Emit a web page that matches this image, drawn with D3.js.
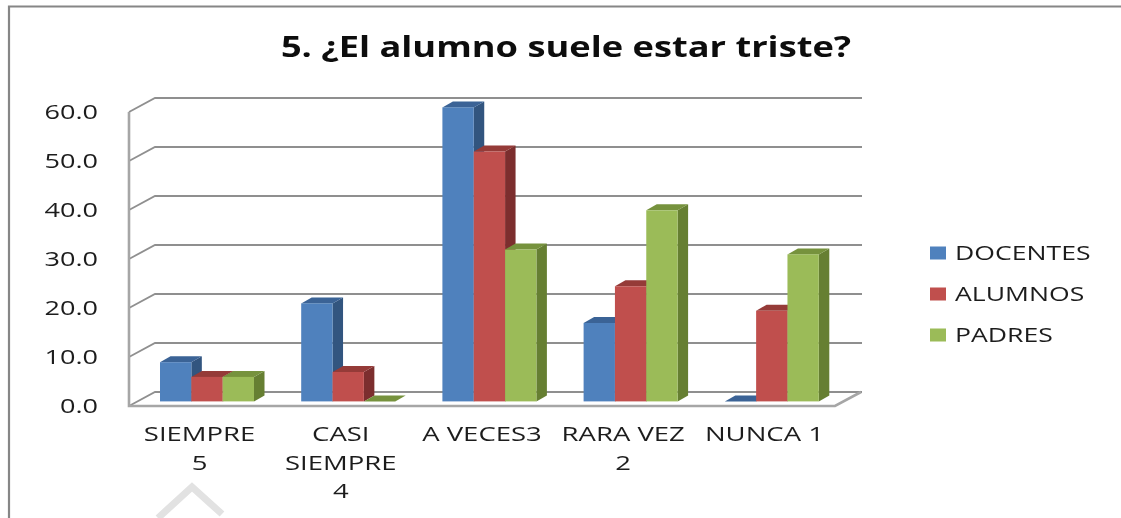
<!DOCTYPE html>
<html><head><meta charset="utf-8">
<script src="https://cdn.jsdelivr.net/npm/d3@7"></script>
<style>html,body{margin:0;padding:0;background:#fff;overflow:hidden}svg{display:block}text{font-family:"Open Sans",sans-serif;fill:#1c1c1c}</style>
</head><body><svg id="c" width="1121" height="518"></svg>
<script>
const titleText = "5. ¿El alumno suele estar triste?";
const categories = [["SIEMPRE","5"],["CASI","SIEMPRE","4"],["A VECES3"],["RARA VEZ","2"],["NUNCA 1"]];
const seriesNames = ["DOCENTES","ALUMNOS","PADRES"];
const docentes = [8,20,60,16,0];
const alumnos = [5,6,51,23.5,18.5];
const padres = [5,0,31,39,30];
const yTicks = [0,10,20,30,40,50,60];
const colors = ["#4f81bd","#c0504d","#9bbb59"];
const topColors = ["#3a6396","#953b39","#76923c"];
const sideColors = ["#31547f","#7c2f2d","#667f33"];
const series = [docentes,alumnos,padres];

const svg = d3.select("#c");
const defs = svg.append("defs");
defs.append("filter").attr("id","soft").append("feGaussianBlur").attr("stdDeviation",0.5);
const g = svg.append("g").attr("filter","url(#soft)");

function stretched(parent,x,y,sx,size,anchor,str){
  return parent.append("text").attr("transform",`translate(${x},${y}) scale(${sx},1)`)
    .attr("text-anchor",anchor).attr("font-size",size).text(str);
}

g.append("path").attr("d","M9,518V6.5H1121").attr("fill","none").attr("stroke","#868686").attr("stroke-width",2.2);
g.append("path").attr("d","M158,518L192,487L222,514").attr("fill","none").attr("stroke","#e2e2e2").attr("stroke-width",7);

const left=129,right=835,floorY=406,topY=112,backDX=26,backDY=14;
const y = d3.scaleLinear().domain([0,60]).range([floorY,topY]);
const x = d3.scaleBand().domain(d3.range(categories.length)).range([left,right]);
const inner = d3.scaleBand().domain(d3.range(series.length)).range([31,125]);
const barDY=4.6, capDX=10.5, capDY=6;

const grid = g.append("g").attr("fill","none").attr("stroke","#8f8f8f").attr("stroke-width",1.8);
yTicks.forEach(t=>{
  grid.append("path").attr("d",`M${left},${y(t)}L${left+backDX},${y(t)-backDY}H${right+backDX+1}`);
});
grid.append("path").attr("d",`M${left},${topY}V${floorY}H${right}L${right+backDX},${floorY-backDY}`).attr("stroke","#a6a6a6").attr("stroke-width",2.6);

const yl = g.append("g");
yTicks.forEach(t=>stretched(yl,98,y(t)+6.5,1.32,20.5,"end",t.toFixed(1)));

const bars = g.append("g");
categories.forEach((c,i)=>{
  series.forEach((s,k)=>{
    const v=s[i];
    const x0=x(i)+inner(k), w=inner.bandwidth();
    const base=y(0)-barDY, top=y(v)-barDY;
    const b=bars.append("g");
    if(v>0){
      b.append("path").attr("fill",sideColors[k]).attr("d",`M${x0+w},${top}l${capDX},${-capDY}V${base-capDY}l${-capDX},${capDY}Z`);
      b.append("path").attr("fill",topColors[k]).attr("d",`M${x0},${top}l${capDX},${-capDY}h${w}l${-capDX},${capDY}Z`);
      b.append("rect").attr("x",x0).attr("y",top).attr("width",w).attr("height",base-top).attr("fill",colors[k]);
    } else {
      b.append("path").attr("fill",topColors[k]).attr("d",`M${x0},${base}l${capDX},${-capDY}h${w}l${-capDX},${capDY}Z`);
    }
  });
});

const lab = g.append("g");
categories.forEach((c,i)=>{
  c.forEach((t,j)=>{
    stretched(lab,x(i)+x.bandwidth()/2,441+j*28.5,1.41,19.5,"middle",t);
  });
});

stretched(g,566,57,1.25,29,"middle",titleText).attr("font-weight",700).style("fill","#111");

const legY = d3.scalePoint().domain(seriesNames).range([253,335]);
const leg = g.append("g");
seriesNames.forEach((d,i)=>{
  leg.append("rect").attr("x",930).attr("y",legY(d)-6.5).attr("width",16).attr("height",13).attr("fill",colors[i]);
  stretched(leg,955,legY(d)+7,1.33,20,"start",d);
});
</script></body></html>
